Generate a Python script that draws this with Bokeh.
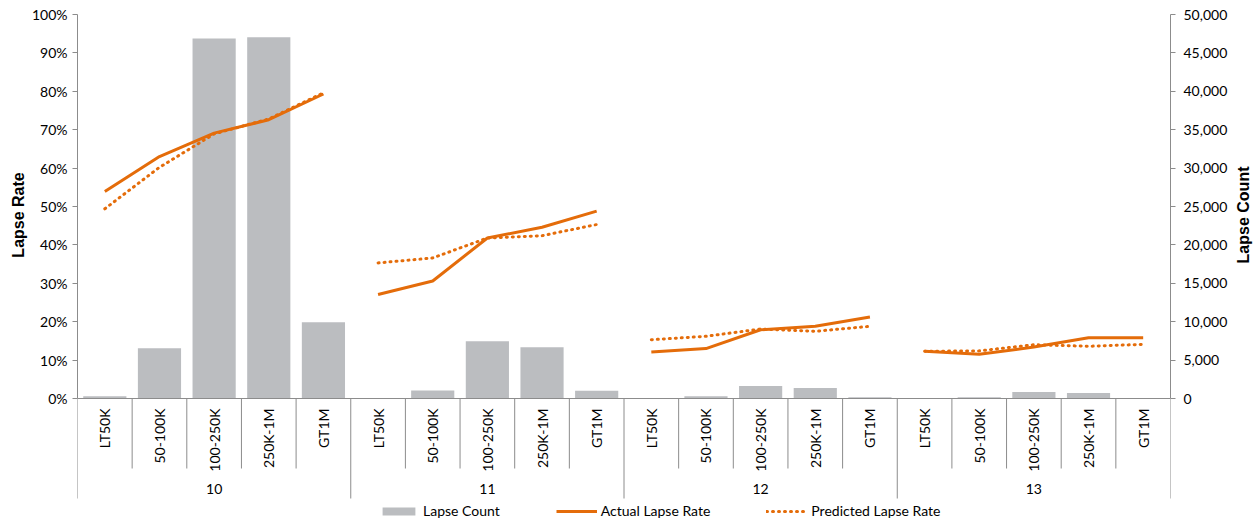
import math
from bokeh.plotting import figure
from bokeh.layouts import row
from bokeh.models import (Range1d, LinearAxis, FixedTicker, PrintfTickFormatter,
                          NumeralTickFormatter, Legend, LegendItem, ColumnDataSource)
from bokeh.core.properties import value
from bokeh.embed import file_html
from bokeh.resources import INLINE

# ---------------- data ----------------
groups = ["10", "11", "12", "13"]
bands = ["LT50K", "50-100K", "100-250K", "250K-1M", "GT1M"]
lapse_count = [300, 6550, 46875, 47050, 9930,
               50, 1040, 7460, 6680, 1000,
               30, 300, 1640, 1380, 170,
               20, 150, 860, 730, 80]
actual_rate = [53.9, 63.0, 69.1, 72.6, 79.3,
               27.1, 30.6, 41.8, 44.6, 48.8,
               12.1, 13.0, 17.9, 18.8, 21.2,
               12.3, 11.5, 13.4, 15.8, 15.8]
predicted_rate = [49.4, 60.2, 68.9, 72.8, 79.6,
                  35.3, 36.6, 41.8, 42.4, 45.3,
                  15.3, 16.2, 18.1, 17.5, 18.8,
                  12.3, 12.4, 14.0, 13.6, 14.1]
rate_ticks = [0, 10, 20, 30, 40, 50, 60, 70, 80, 90, 100]
count_ticks = [0, 5000, 10000, 15000, 20000, 25000, 30000, 35000, 40000, 45000, 50000]
left_title = "Lapse Rate"
right_title = "Lapse Count"

# ---------------- layout constants ----------------
W, H = 1257, 521
STRIP_L, STRIP_R = 28, 25
LEFT, RIGHT, TOP = 48, 62, 14
PLOT_H = 384                     # pixels from 0% to 100%
n_b, n_g = len(bands), len(groups)
n_cat = n_b * n_g
px_y = 100.0 / PLOT_H            # % per pixel
y_min = -(H - TOP - PLOT_H) * px_y
ratio = count_ticks[-1] / rate_ticks[-1]

FONT = value("Lato")
GRAY = "#8C8C8C"
BAR = "#BBBDC0"
ORANGE = "#E46C0A"

p = figure(width=W - STRIP_L - STRIP_R, height=H, output_backend="svg",
           toolbar_location=None,
           x_range=Range1d(0, n_cat), y_range=Range1d(y_min, rate_ticks[-1]),
           x_axis_location=None, min_border_left=LEFT, min_border_right=RIGHT,
           min_border_top=TOP, min_border_bottom=0)
p.outline_line_color = None
p.grid.visible = False
p.extra_y_ranges = {"count": Range1d(y_min * ratio, count_ticks[-1])}

# ---------------- value axes ----------------
ya = p.yaxis[0]
ya.ticker = FixedTicker(ticks=rate_ticks)
ya.formatter = PrintfTickFormatter(format="%d%%")
ya.bounds = (rate_ticks[0], rate_ticks[-1])

ra = LinearAxis(y_range_name="count", ticker=FixedTicker(ticks=count_ticks),
                formatter=NumeralTickFormatter(format="0,0"),
                bounds=(count_ticks[0], count_ticks[-1]))
p.add_layout(ra, "right")
for ax, st in ((ya, 5), (ra, 8)):
    ax.axis_line_color = GRAY
    ax.major_tick_line_color = GRAY
    ax.minor_tick_line_color = None
    ax.major_tick_in = 0
    ax.major_tick_out = 5
    ax.major_label_standoff = st
    ax.major_label_text_font = "Lato"
    ax.major_label_text_font_size = "14px"
    ax.major_label_text_color = "#000000"

# ---------------- bars & lines ----------------
xc = [i + 0.5 for i in range(n_cat)]
src = ColumnDataSource(dict(x=xc, count=lapse_count))
bars = p.vbar(x="x", top="count", width=0.79, bottom=0, source=src,
              y_range_name="count", fill_color=BAR, line_color=None)

act_r, pred_r = [], []
for g in range(n_g):
    s = slice(g * n_b, (g + 1) * n_b)
    r1 = p.line(xc[s], predicted_rate[s], line_color=ORANGE, line_width=3,
                line_dash="1 5", line_cap="round")
    r2 = p.line(xc[s], actual_rate[s], line_color=ORANGE, line_width=3)
    pred_r.append(r1)
    act_r.append(r2)

# ---------------- category axis (drawn) ----------------
tick_bottom = -70 * px_y
group_bottom = -100 * px_y
inner = [b for b in range(1, n_cat) if b % n_b != 0]
outer = [b for b in range(0, n_cat + 1) if b % n_b == 0]
p.segment(x0=inner, y0=[0] * len(inner), x1=inner, y1=[tick_bottom] * len(inner),
          line_color=GRAY, line_width=1)
p.segment(x0=outer, y0=[0] * len(outer), x1=outer, y1=[group_bottom] * len(outer),
          line_color=GRAY, line_width=1)
p.segment(x0=[0], y0=[0], x1=[n_cat], y1=[0], line_color=GRAY, line_width=1)

cat_labels = bands * n_g
p.text(x=xc, y=[-10 * px_y] * n_cat, text=cat_labels, angle=math.pi / 2,
       text_align="right", text_baseline="middle", text_font=FONT,
       text_font_size="14px", text_color="#000000")
gx = [g * n_b + n_b / 2 for g in range(n_g)]
p.text(x=gx, y=[-90 * px_y] * n_g, text=groups, text_align="center",
       text_baseline="middle", text_font=FONT, text_font_size="14px",
       text_color="#000000")

# ---------------- legend ----------------
legend = Legend(items=[LegendItem(label="Lapse Count", renderers=[bars]),
                       LegendItem(label="Actual Lapse Rate", renderers=[act_r[0]]),
                       LegendItem(label="Predicted Lapse Rate", renderers=[pred_r[0]])],
                orientation="horizontal", location=(301, 2), glyph_width=41,
                glyph_height=10, label_height=16, label_standoff=4, spacing=56,
                padding=0, margin=0, border_line_color=None, background_fill_alpha=0,
                label_text_font="Lato", label_text_font_size="14px",
                label_text_color="#000000")
p.add_layout(legend, "center")


# ---------------- axis-title strips ----------------
def title_strip(width, cx, text):
    s = figure(width=width, height=H, output_backend="svg", toolbar_location=None,
               x_range=Range1d(0, width), y_range=Range1d(H, 0),
               x_axis_location=None, y_axis_location=None,
               min_border_left=0, min_border_right=0, min_border_top=0,
               min_border_bottom=0)
    s.outline_line_color = None
    s.grid.visible = False
    s.text(x=[cx], y=[TOP + PLOT_H / 2], text=[text], angle=math.pi / 2,
           text_align="center", text_baseline="middle",
           text_font=value("Liberation Sans"), text_font_style="bold",
           text_font_size="16px", text_color="#000000")
    return s


sl = title_strip(STRIP_L, 17.5, left_title)
sr = title_strip(STRIP_R, 10.5, right_title)

layout = row(sl, p, sr, spacing=0)
open("out.html", "w").write(file_html(layout, INLINE))
